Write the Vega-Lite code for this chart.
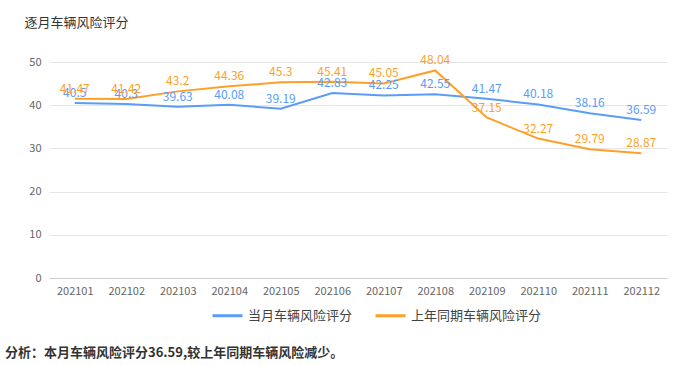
{
  "$schema": "https://vega.github.io/schema/vega-lite/v6.json",
  "width": 618,
  "height": 216,
  "autosize": {"type": "none"},
  "padding": {"left": 49, "top": 62, "right": 9, "bottom": 87},
  "background": "white",
  "title": {
    "text": "分析：本月车辆风险评分36.59,较上年同期车辆风险减少。",
    "orient": "bottom",
    "anchor": "start",
    "frame": "group",
    "dx": -44,
    "offset": 24,
    "fontSize": 13,
    "fontWeight": "bold",
    "color": "#333333",
    "font": "Noto Sans CJK SC"
  },
  "config": {
    "font": "Noto Sans CJK SC",
    "view": {"stroke": null},
    "axis": {"labelFont": "Noto Sans CJK SC", "titleFont": "Noto Sans CJK SC"},
    "legend": {"labelFont": "Noto Sans CJK SC"}
  },
  "data": {
    "values": [
      {"month": "202101", "series": "当月车辆风险评分", "value": 40.5},
      {"month": "202102", "series": "当月车辆风险评分", "value": 40.3},
      {"month": "202103", "series": "当月车辆风险评分", "value": 39.63},
      {"month": "202104", "series": "当月车辆风险评分", "value": 40.08},
      {"month": "202105", "series": "当月车辆风险评分", "value": 39.19},
      {"month": "202106", "series": "当月车辆风险评分", "value": 42.83},
      {"month": "202107", "series": "当月车辆风险评分", "value": 42.25},
      {"month": "202108", "series": "当月车辆风险评分", "value": 42.55},
      {"month": "202109", "series": "当月车辆风险评分", "value": 41.47},
      {"month": "202110", "series": "当月车辆风险评分", "value": 40.18},
      {"month": "202111", "series": "当月车辆风险评分", "value": 38.16},
      {"month": "202112", "series": "当月车辆风险评分", "value": 36.59},
      {"month": "202101", "series": "上年同期车辆风险评分", "value": 41.47},
      {"month": "202102", "series": "上年同期车辆风险评分", "value": 41.42},
      {"month": "202103", "series": "上年同期车辆风险评分", "value": 43.2},
      {"month": "202104", "series": "上年同期车辆风险评分", "value": 44.36},
      {"month": "202105", "series": "上年同期车辆风险评分", "value": 45.3},
      {"month": "202106", "series": "上年同期车辆风险评分", "value": 45.41},
      {"month": "202107", "series": "上年同期车辆风险评分", "value": 45.05},
      {"month": "202108", "series": "上年同期车辆风险评分", "value": 48.04},
      {"month": "202109", "series": "上年同期车辆风险评分", "value": 37.15},
      {"month": "202110", "series": "上年同期车辆风险评分", "value": 32.27},
      {"month": "202111", "series": "上年同期车辆风险评分", "value": 29.79},
      {"month": "202112", "series": "上年同期车辆风险评分", "value": 28.87}
    ]
  },
  "encoding": {
    "x": {
      "field": "month",
      "type": "ordinal",
      "scale": {"type": "point", "padding": 0.5},
      "axis": {
        "title": null,
        "labelAngle": 0,
        "labelColor": "#666666",
        "labelFontSize": 11,
        "labelPadding": 7,
        "ticks": false,
        "domainColor": "#cccccc",
        "grid": false
      }
    },
    "y": {
      "field": "value",
      "type": "quantitative",
      "scale": {"domain": [0, 50], "nice": false},
      "axis": {
        "title": "逐月车辆风险评分",
        "titleAngle": 0,
        "titleAlign": "left",
        "titleBaseline": "middle",
        "titleX": -25,
        "titleY": -40,
        "titleFontSize": 13,
        "titleFontWeight": "normal",
        "titleColor": "#333333",
        "values": [0, 10, 20, 30, 40, 50],
        "labelColor": "#666666",
        "labelFontSize": 11,
        "labelPadding": 8,
        "ticks": false,
        "domain": false,
        "gridColor": "#e6e6e6"
      }
    },
    "color": {
      "field": "series",
      "type": "nominal",
      "scale": {
        "domain": ["当月车辆风险评分", "上年同期车辆风险评分"],
        "range": ["#5a9cf8", "#ff9f29"]
      },
      "legend": {
        "title": null,
        "orient": "none",
        "legendX": 162,
        "legendY": 237,
        "direction": "horizontal",
        "symbolType": "stroke",
        "symbolStrokeWidth": 3,
        "symbolSize": 900,
        "labelFontSize": 13,
        "labelColor": "#444444",
        "columnPadding": 16
      }
    }
  },
  "layer": [
    {"mark": {"type": "line", "strokeWidth": 2}},
    {
      "mark": {"type": "text", "baseline": "bottom", "dy": -3, "fontSize": 12},
      "encoding": {"text": {"field": "value", "type": "quantitative"}}
    }
  ]
}
